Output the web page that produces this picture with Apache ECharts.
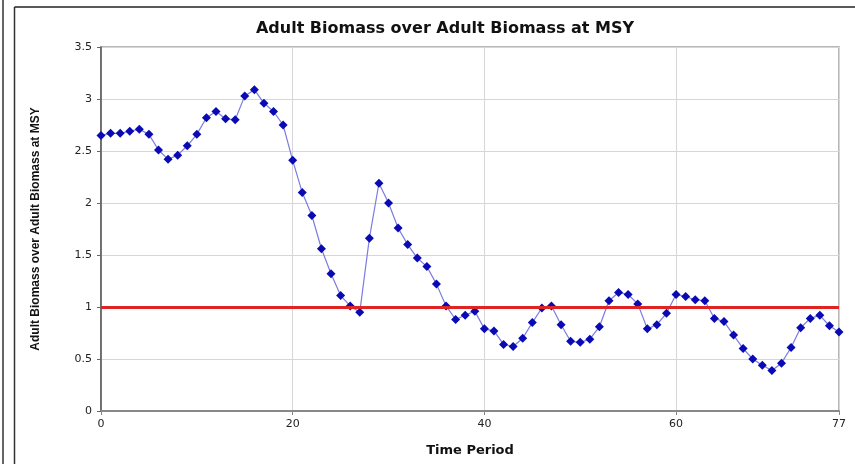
<!DOCTYPE html>
<html>
<head>
<meta charset="utf-8">
<script src="https://cdn.jsdelivr.net/npm/echarts@6/dist/echarts.min.js"></script>
<style>
  html, body { margin: 0; padding: 0; background: #fff; }
  #chart { width: 855px; height: 464px; }
</style>
</head>
<body>
<div id="chart"></div>
<script>
// Time periods 0..77
const periods = [
  0, 1, 2, 3, 4, 5, 6, 7, 8, 9, 10, 11, 12, 13, 14, 15, 16, 17, 18, 19,
  20, 21, 22, 23, 24, 25, 26, 27, 28, 29, 30, 31, 32, 33, 34, 35, 36, 37, 38, 39,
  40, 41, 42, 43, 44, 45, 46, 47, 48, 49, 50, 51, 52, 53, 54, 55, 56, 57, 58, 59,
  60, 61, 62, 63, 64, 65, 66, 67, 68, 69, 70, 71, 72, 73, 74, 75, 76, 77
];

// Adult biomass relative to adult biomass at MSY
const biomassRatio = [
  2.65, 2.67, 2.67, 2.69, 2.71, 2.66, 2.51, 2.42, 2.46, 2.55,
  2.66, 2.82, 2.88, 2.81, 2.80, 3.03, 3.09, 2.96, 2.88, 2.75,
  2.41, 2.10, 1.88, 1.56, 1.32, 1.11, 1.01, 0.95, 1.66, 2.19,
  2.00, 1.76, 1.60, 1.47, 1.39, 1.22, 1.01, 0.88, 0.92, 0.96,
  0.79, 0.77, 0.64, 0.62, 0.70, 0.85, 0.99, 1.01, 0.83, 0.67,
  0.66, 0.69, 0.81, 1.06, 1.14, 1.12, 1.03, 0.79, 0.83, 0.94,
  1.12, 1.10, 1.07, 1.06, 0.89, 0.86, 0.73, 0.60, 0.50, 0.44,
  0.39, 0.46, 0.61, 0.80, 0.89, 0.92, 0.82, 0.76
];

// Reference level: biomass equal to biomass at MSY
const msyLevel = 1;

const xTicks = { min: 0, max: 77, interval: 20 };
const yTicks = { min: 0, max: 3.5, interval: 0.5 };

const seriesData = periods.map((t, i) => [t, biomassRatio[i]]);

const chart = echarts.init(document.getElementById('chart'), null, { renderer: 'canvas' });

const wideFont = '"DejaVu Sans", Verdana, sans-serif';
const narrowFont = '"Liberation Sans Narrow", "Arial Narrow", Arial, "Liberation Sans", sans-serif';

chart.setOption({
  animation: false,
  backgroundColor: '#fff',
  title: {
    text: 'Adult Biomass over Adult Biomass at MSY',
    left: 440,
    textAlign: 'center',
    top: 16,
    textStyle: { fontFamily: wideFont, fontWeight: 'bold', fontSize: 16, color: '#111' }
  },
  grid: {
    left: 101, top: 47, right: 16, bottom: 53,
    show: true, borderColor: '#a0a0a0', borderWidth: 1.5, backgroundColor: '#fff'
  },
  xAxis: {
    type: 'value',
    min: xTicks.min, max: xTicks.max, interval: xTicks.interval,
    name: 'Time Period',
    nameLocation: 'middle',
    nameGap: 33,
    nameTextStyle: { fontFamily: wideFont, fontWeight: 'bold', fontSize: 13, color: '#111' },
    axisLine: { show: true, onZero: false, lineStyle: { color: '#888', width: 2 } },
    axisTick: { show: true, length: 4, lineStyle: { color: '#888' } },
    axisLabel: { fontFamily: wideFont, fontSize: 11, color: '#222', margin: 8, showMaxLabel: true },
    splitLine: { show: true, lineStyle: { color: '#d6d6d6', width: 1 } }
  },
  yAxis: {
    type: 'value',
    min: yTicks.min, max: yTicks.max, interval: yTicks.interval,
    name: 'Adult Biomass over Adult Biomass at MSY',
    nameLocation: 'middle',
    nameGap: 59,
    nameRotate: 90,
    nameTextStyle: { fontFamily: narrowFont, fontWeight: 'bold', fontSize: 12, color: '#111' },
    axisLine: { show: true, lineStyle: { color: '#555', width: 1.5 } },
    axisTick: { show: true, length: 4, lineStyle: { color: '#666' } },
    axisLabel: { fontFamily: wideFont, fontSize: 11, color: '#222', margin: 9 },
    splitLine: { show: true, lineStyle: { color: '#d6d6d6', width: 1 } }
  },
  series: [
    {
      type: 'line',
      data: seriesData,
      symbol: 'diamond',
      symbolSize: 9,
      showAllSymbol: true,
      lineStyle: { color: '#7b7be0', width: 1.2 },
      itemStyle: { color: '#0a0ab4', borderWidth: 0 },
      z: 3,
      markLine: {
        silent: true,
        symbol: 'none',
        label: { show: false },
        lineStyle: { color: '#e02424', width: 3, type: 'solid' },
        data: [{ yAxis: msyLevel }],
        z: 5
      }
    }
  ],
  graphic: [
    { type: 'line', shape: { x1: 3, y1: 0, x2: 3, y2: 464 }, style: { stroke: '#333', lineWidth: 1.5 } },
    { type: 'line', shape: { x1: 14.5, y1: 7, x2: 14.5, y2: 464 }, style: { stroke: '#333', lineWidth: 1.5 } },
    { type: 'line', shape: { x1: 14.5, y1: 7, x2: 855, y2: 7 }, style: { stroke: '#222', lineWidth: 1.5 } }
  ]
});
</script>
</body>
</html>
